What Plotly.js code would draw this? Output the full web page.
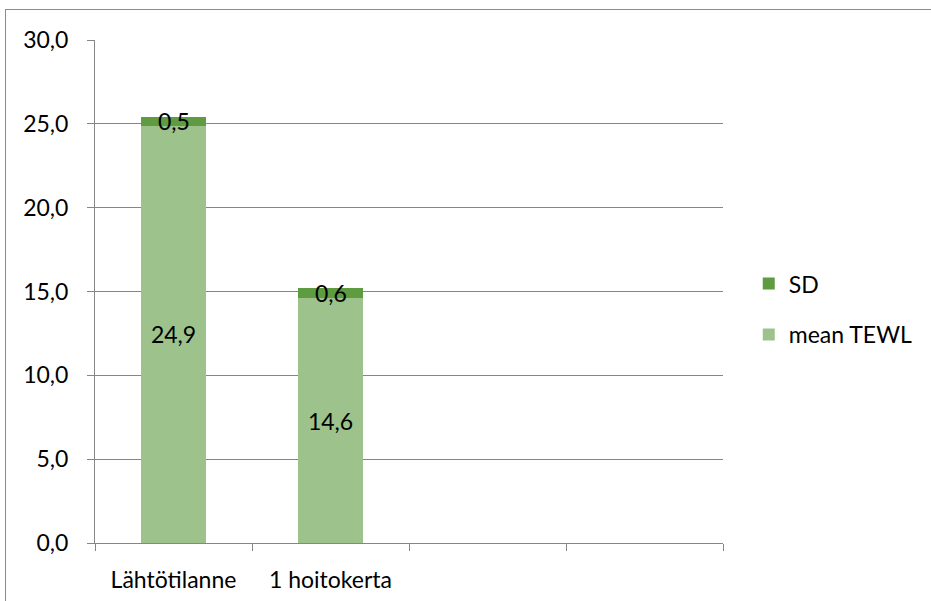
<!DOCTYPE html>
<html>
<head>
<meta charset="utf-8">
<script src="https://cdn.plot.ly/plotly-3.0.1.min.js"></script>
<style>
  html, body { margin: 0; padding: 0; background: #ffffff; }
  #wrap { position: relative; width: 931px; height: 601px; overflow: hidden; }
  #chart { position: absolute; left: 0; top: 0; width: 931px; height: 601px; }
  #frame { position: absolute; left: 5px; top: 9px; width: 940px; height: 610px;
           border-left: 1px solid #8c8c8c; border-top: 1px solid #8c8c8c; pointer-events: none; }
</style>
</head>
<body>
<div id="wrap">
  <div id="chart"></div>
  <div id="frame"></div>
</div>
<script>
// TEWL measurements: mean value with standard deviation stacked on top
const categories = ['Lähtötilanne', '1 hoitokerta', ' ', '  '];
const meanTEWL = [24.9, 14.6, null, null];
const sdTEWL = [0.5, 0.6, null, null];
const yTicks = [0, 5, 10, 15, 20, 25, 30];

const FONT = 'Lato, "Open Sans", sans-serif';
const fmt = v => v.toFixed(1).replace('.', ',');

const meanTrace = {
  type: 'bar',
  name: 'mean TEWL',
  x: categories,
  y: meanTEWL,
  width: 0.41,
  marker: { color: '#9dc28b', line: { width: 0 } },
  text: meanTEWL.map(v => v == null ? '' : fmt(v)),
  textposition: 'inside',
  insidetextanchor: 'middle',
  textfont: { family: FONT, size: 23, color: '#000000' },
  constraintext: 'none',
  hoverinfo: 'skip',
  legendgroup: 'mean',
  legendrank: 2
};

const sdTrace = {
  type: 'bar',
  name: 'SD',
  x: categories,
  y: sdTEWL,
  width: 0.41,
  marker: { color: '#5f9b41', line: { width: 0 } },
  hoverinfo: 'skip',
  legendgroup: 'sd',
  legendrank: 1
};

// SD value labels centred on each thin SD segment
const sdLabels = categories.map((c, i) => sdTEWL[i] == null ? null : {
  x: c, y: meanTEWL[i] + sdTEWL[i] / 2, xref: 'x', yref: 'y',
  text: fmt(sdTEWL[i]), showarrow: false,
  font: { family: FONT, size: 23, color: '#000000' }
}).filter(a => a);

const layout = {
  width: 931, height: 601,
  margin: { l: 95, r: 208, t: 40, b: 58, pad: 0, autoexpand: false },
  paper_bgcolor: '#ffffff', plot_bgcolor: '#ffffff',
  barmode: 'stack',
  separators: ', ',
  font: { family: FONT, size: 23, color: '#000000' },
  showlegend: true,
  legend: {
    x: 1.041, xanchor: 'left', y: 0.465, yanchor: 'middle',
    traceorder: 'grouped', tracegroupgap: 18,
    font: { family: FONT, size: 23, color: '#000000' },
    bgcolor: 'rgba(0,0,0,0)'
  },
  xaxis: {
    type: 'category',
    categoryorder: 'array', categoryarray: categories,
    range: [-0.5, 3.5],
    tickson: 'boundaries', ticks: 'outside', ticklen: 7, tickcolor: '#868686', tickwidth: 1,
    showline: true, linecolor: '#868686', linewidth: 1,
    showgrid: false, zeroline: false,
    ticklabelstandoff: 16,
    tickfont: { family: FONT, size: 23, color: '#000000' },
    fixedrange: true
  },
  yaxis: {
    range: [0, 30],
    tickvals: yTicks, tickformat: '.1f',
    ticks: 'outside', ticklen: 7, tickcolor: '#868686', tickwidth: 1,
    showline: true, linecolor: '#868686', linewidth: 1,
    showgrid: true, gridcolor: '#868686', gridwidth: 1,
    zeroline: false,
    ticklabelstandoff: 14,
    tickfont: { family: FONT, size: 23, color: '#000000' },
    fixedrange: true
  },
  annotations: sdLabels
};

Plotly.newPlot('chart', [meanTrace, sdTrace], layout, { staticPlot: true, displayModeBar: false });
</script>
</body>
</html>
